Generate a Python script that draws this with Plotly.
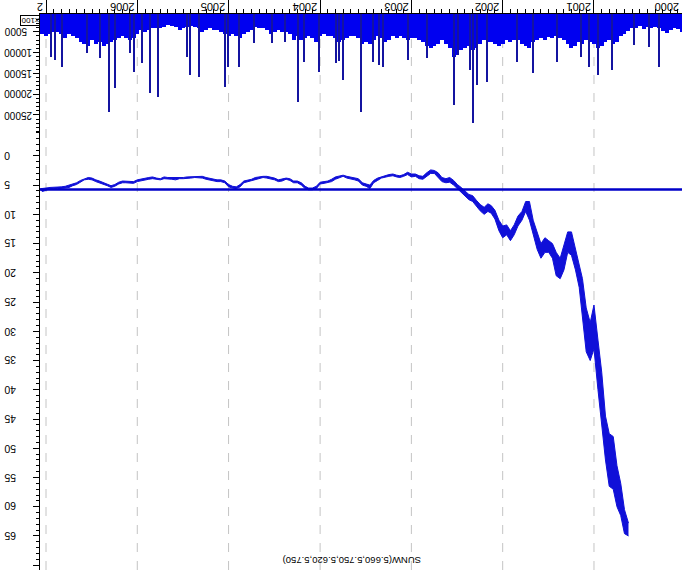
import plotly.graph_objects as go

# ---------------- data ----------------
price_dates = [
    "2000-08-16", "2000-09-01", "2000-09-16", "2000-10-01", "2000-10-16", "2000-11-01", "2000-11-16", "2000-12-01", "2000-12-16",
    "2001-01-01", "2001-01-16", "2001-02-01", "2001-02-16", "2001-03-01", "2001-03-16", "2001-04-01", "2001-04-16",
    "2001-05-01", "2001-05-16", "2001-06-01", "2001-06-16", "2001-07-01", "2001-07-16", "2001-08-01", "2001-08-16",
    "2001-09-01", "2001-09-16", "2001-10-01", "2001-10-16", "2001-11-01", "2001-11-16", "2001-12-01", "2001-12-16",
    "2002-01-01", "2002-01-16", "2002-02-01", "2002-02-16", "2002-03-01", "2002-03-16", "2002-04-01", "2002-04-16",
    "2002-05-01", "2002-05-16", "2002-06-01", "2002-06-16", "2002-07-01", "2002-07-16", "2002-08-01", "2002-08-16",
    "2002-09-01", "2002-09-16", "2002-10-01", "2002-10-16", "2002-11-01", "2002-11-16", "2002-12-01", "2002-12-16",
    "2003-01-01", "2003-01-16", "2003-02-01", "2003-02-16", "2003-03-01", "2003-03-16", "2003-04-01", "2003-04-16",
    "2003-05-01", "2003-05-16", "2003-06-01", "2003-06-16", "2003-07-01", "2003-07-16", "2003-08-01", "2003-08-16",
    "2003-09-01", "2003-09-16", "2003-10-01", "2003-10-16", "2003-11-01", "2003-11-16", "2003-12-01", "2003-12-16",
    "2004-01-01", "2004-01-16", "2004-02-01", "2004-02-16", "2004-03-01", "2004-03-16", "2004-04-01", "2004-04-16",
    "2004-05-01", "2004-05-16", "2004-06-01", "2004-06-16", "2004-07-01", "2004-07-16", "2004-08-01", "2004-08-16",
    "2004-09-01", "2004-09-16", "2004-10-01", "2004-10-16", "2004-11-01", "2004-11-16", "2004-12-01", "2004-12-16",
    "2005-01-01", "2005-01-16", "2005-02-01", "2005-02-16", "2005-03-01", "2005-03-16", "2005-04-01", "2005-04-16",
    "2005-05-01", "2005-05-16", "2005-06-01", "2005-06-16", "2005-07-01", "2005-07-16", "2005-08-01", "2005-08-16",
    "2005-09-01", "2005-09-16", "2005-10-01", "2005-10-16", "2005-11-01", "2005-11-16", "2005-12-01", "2005-12-16",
    "2006-01-01", "2006-01-16", "2006-02-01", "2006-02-16", "2006-03-01", "2006-03-16", "2006-04-01", "2006-04-16",
    "2006-05-01", "2006-05-16", "2006-06-01", "2006-06-16", "2006-07-01", "2006-07-16", "2006-08-01", "2006-08-16",
    "2006-09-01", "2006-09-16", "2006-10-01", "2006-10-16", "2006-11-01", "2006-11-16", "2006-12-01", "2006-12-16",
    "2007-01-01", "2007-01-16", "2007-01-24",
]
price_high = [
    65.0, 64.6, 61.5, 60.0, 57.0, 56.5, 52.0, 46.5, 40.0,
    33.0, 35.0, 33.5, 27.0, 22.5, 19.5, 17.0, 16.5,
    19.5, 21.0, 20.5, 17.5, 16.5, 16.5, 17.5, 16.0,
    13.5, 11.0, 9.5, 11.0, 12.0, 13.5, 14.5, 13.5,
    14.0, 12.8, 10.8, 9.8, 9.5, 10.0, 9.4, 8.6,
    7.8, 7.5, 6.8, 6.3, 5.6, 5.0, 4.5, 4.6,
    4.4, 3.6, 3.0, 3.0, 3.6, 4.0, 3.9, 3.5,
    3.6, 3.2, 3.5, 3.7, 3.6, 3.4, 3.5, 3.7,
    3.8, 4.2, 4.6, 5.6, 5.2, 5.0, 4.3, 4.1,
    4.0, 3.8, 3.5, 3.7, 4.0, 4.4, 4.6, 4.7,
    4.8, 5.6, 5.8, 5.8, 5.6, 5.0, 4.6, 4.6,
    4.2, 4.0, 4.3, 4.4, 4.1, 3.9, 3.8, 3.7,
    3.9, 4.0, 4.3, 4.5, 4.6, 5.3, 5.6, 5.5,
    5.3, 4.6, 4.4, 4.4, 4.3, 4.1, 4.0, 3.8,
    3.7, 3.7, 3.8, 3.9, 3.9, 3.9, 4.1, 4.0,
    3.9, 3.9, 4.1, 4.0, 3.9, 4.0, 4.1, 4.3,
    4.4, 4.7, 4.6, 4.6, 4.6, 4.8, 5.2, 5.4,
    5.1, 4.9, 4.6, 4.4, 4.1, 4.0, 4.1, 4.5,
    4.9, 5.1, 5.4, 5.5, 5.6, 5.6, 5.6, 5.6,
    5.9, 6.1, 5.75,
]
price_low = [
    62.8, 60.5, 56.0, 53.0, 48.0, 47.5, 44.5, 37.0, 31.5,
    25.5, 28.5, 26.0, 21.0, 18.5, 15.5, 13.0, 13.0,
    15.5, 17.5, 16.5, 15.0, 14.5, 14.0, 15.0, 13.0,
    11.0, 7.8, 7.8, 9.5, 10.3, 11.8, 12.8, 11.8,
    12.0, 11.0, 9.3, 8.5, 8.2, 8.8, 8.3, 7.6,
    6.8, 6.6, 5.9, 5.4, 4.9, 4.2, 3.7, 3.9,
    3.7, 2.9, 2.5, 2.4, 2.9, 3.5, 3.4, 3.1,
    3.1, 2.8, 3.2, 3.4, 3.3, 3.1, 3.2, 3.4,
    3.5, 3.8, 4.2, 5.0, 4.8, 4.6, 3.9, 3.8,
    3.7, 3.5, 3.3, 3.4, 3.6, 4.0, 4.3, 4.4,
    4.5, 5.2, 5.5, 5.5, 5.2, 4.6, 4.3, 4.3,
    3.9, 3.8, 4.0, 4.1, 3.8, 3.6, 3.5, 3.5,
    3.6, 3.7, 4.0, 4.2, 4.3, 4.9, 5.3, 5.2,
    4.9, 4.3, 4.1, 4.1, 4.0, 3.9, 3.7, 3.5,
    3.5, 3.5, 3.5, 3.6, 3.7, 3.7, 3.8, 3.7,
    3.7, 3.6, 3.9, 3.8, 3.6, 3.7, 3.8, 4.0,
    4.1, 4.4, 4.4, 4.3, 4.3, 4.5, 4.9, 5.1,
    4.8, 4.6, 4.3, 4.1, 3.8, 3.7, 3.9, 4.2,
    4.6, 4.8, 5.1, 5.2, 5.3, 5.3, 5.3, 5.4,
    5.5, 5.6, 5.62,
]
last_close = 5.75
title_text = "SUNW(5.660,5.750,5.620,5.750)"

vol_dates = [
    "2000-01-01", "2000-01-16", "2000-02-01", "2000-02-16", "2000-03-01", "2000-03-16", "2000-04-01", "2000-04-16",
    "2000-05-01", "2000-05-16", "2000-06-01", "2000-06-16", "2000-07-01", "2000-07-16", "2000-08-01", "2000-08-16",
    "2000-09-01", "2000-09-16", "2000-10-01", "2000-10-16", "2000-11-01", "2000-11-16", "2000-12-01", "2000-12-16",
    "2001-01-01", "2001-01-16", "2001-02-01", "2001-02-16", "2001-03-01", "2001-03-16", "2001-04-01", "2001-04-16",
    "2001-05-01", "2001-05-16", "2001-06-01", "2001-06-16", "2001-07-01", "2001-07-16", "2001-08-01", "2001-08-16",
    "2001-09-01", "2001-09-16", "2001-10-01", "2001-10-16", "2001-11-01", "2001-11-16", "2001-12-01", "2001-12-16",
    "2002-01-01", "2002-01-16", "2002-02-01", "2002-02-16", "2002-03-01", "2002-03-16", "2002-04-01", "2002-04-16",
    "2002-05-01", "2002-05-16", "2002-06-01", "2002-06-16", "2002-07-01", "2002-07-16", "2002-08-01", "2002-08-16",
    "2002-09-01", "2002-09-16", "2002-10-01", "2002-10-16", "2002-11-01", "2002-11-16", "2002-12-01", "2002-12-16",
    "2003-01-01", "2003-01-16", "2003-02-01", "2003-02-16", "2003-03-01", "2003-03-16", "2003-04-01", "2003-04-16",
    "2003-05-01", "2003-05-16", "2003-06-01", "2003-06-16", "2003-07-01", "2003-07-16", "2003-08-01", "2003-08-16",
    "2003-09-01", "2003-09-16", "2003-10-01", "2003-10-16", "2003-11-01", "2003-11-16", "2003-12-01", "2003-12-16",
    "2004-01-01", "2004-01-16", "2004-02-01", "2004-02-16", "2004-03-01", "2004-03-16", "2004-04-01", "2004-04-16",
    "2004-05-01", "2004-05-16", "2004-06-01", "2004-06-16", "2004-07-01", "2004-07-16", "2004-08-01", "2004-08-16",
    "2004-09-01", "2004-09-16", "2004-10-01", "2004-10-16", "2004-11-01", "2004-11-16", "2004-12-01", "2004-12-16",
    "2005-01-01", "2005-01-16", "2005-02-01", "2005-02-16", "2005-03-01", "2005-03-16", "2005-04-01", "2005-04-16",
    "2005-05-01", "2005-05-16", "2005-06-01", "2005-06-16", "2005-07-01", "2005-07-16", "2005-08-01", "2005-08-16",
    "2005-09-01", "2005-09-16", "2005-10-01", "2005-10-16", "2005-11-01", "2005-11-16", "2005-12-01", "2005-12-16",
    "2006-01-01", "2006-01-16", "2006-02-01", "2006-02-16", "2006-03-01", "2006-03-16", "2006-04-01", "2006-04-16",
    "2006-05-01", "2006-05-16", "2006-06-01", "2006-06-16", "2006-07-01", "2006-07-16", "2006-08-01", "2006-08-16",
    "2006-09-01", "2006-09-16", "2006-10-01", "2006-10-16", "2006-11-01", "2006-11-16", "2006-12-01", "2006-12-16",
    "2007-01-01", "2007-01-16",
]
vol_values = [
    4500, 5000, 4300, 4000, 4600, 5200, 4800, 4200,
    3800, 4000, 3900, 4400, 3700, 4100, 4000, 4800,
    5500, 6000, 7500, 8000, 7000, 7500, 8500, 9000,
    8000, 7500, 7000, 8000, 7500, 8500, 9000, 8000,
    7000, 6500, 6000, 6500, 6200, 7000, 6500, 7000,
    7500, 9000, 8500, 8000, 7000, 7000, 7500, 7000,
    8000, 8500, 8000, 7500, 7500, 7000, 8000, 9000,
    9500, 8500, 9000, 9500, 10500, 11000, 9000, 8000,
    7000, 8000, 8500, 9000, 8500, 7500, 7000, 6500,
    6500, 7000, 6500, 6000, 6500, 6000, 7000, 7500,
    6500, 6000, 7000, 8000, 7500, 8000, 6500, 6000,
    6000, 6500, 7000, 7500, 6500, 6000, 6000, 5500,
    6000, 7500, 6500, 6000, 6500, 7000, 6000, 7000,
    5500, 5000, 5000, 4500, 5000, 5500, 4500, 4000,
    4000, 3800, 4500, 5000, 5500, 6500, 6000, 5500,
    6000, 5500, 5000, 4500, 4500, 4200, 4500, 5000,
    4000, 3800, 3600, 3800, 4000, 4500, 3800, 3600,
    3500, 3800, 4000, 4200, 4000, 4500, 5000, 4500,
    5500, 6500, 7000, 6500, 6000, 6500, 7000, 7500,
    8000, 8500, 7500, 8000, 7000, 8500, 8000, 7500,
    6500, 6000, 5500, 6500, 5500, 5000, 5000, 5500,
    6000, 5500,
]

spike_dates = [
    "2000-04-16", "2000-05-26", "2000-07-25", "2000-10-21", "2000-12-16", "2001-01-21", "2001-02-22",
    "2001-05-29", "2001-09-02", "2001-11-05", "2002-03-04", "2002-04-13", "2002-04-29", "2002-05-11",
    "2002-06-28", "2002-07-14", "2002-10-30", "2003-01-14", "2003-04-24", "2003-05-10", "2003-06-03",
    "2003-07-21", "2003-10-01", "2003-10-17", "2003-10-29", "2004-01-05", "2004-03-06", "2004-03-30",
    "2004-05-21", "2004-07-12", "2004-09-22", "2004-11-21", "2005-01-04", "2005-01-16", "2005-04-30",
    "2005-06-05", "2005-06-17", "2005-10-11", "2005-11-12", "2005-12-14", "2006-01-15", "2006-01-31",
    "2006-04-01", "2006-04-25", "2006-05-31", "2006-07-22", "2006-10-30", "2006-11-27", "2006-12-11",
]
spike_values = [
    13500, 8700, 8200, 14200, 15400, 13500, 11000,
    12300, 15000, 12300, 17000, 17800, 26900, 14200,
    10600, 22600, 11300, 11800, 13500, 13000, 12300,
    24300, 16600, 12000, 12500, 14700, 12300, 21900,
    7500, 7700, 7700, 13500, 13500, 18300, 15800,
    15400, 11000, 20600, 19700, 12500, 14700, 10100,
    18500, 24300, 11300, 10100, 13500, 11800, 11000,
]

price_ticks = [0, 5, 10, 15, 20, 25, 30, 35, 40, 45, 50, 55, 60, 65]
vol_ticks = [5000, 10000, 15000, 20000, 25000]
year_ticks = ["2001-01-01", "2002-01-01", "2003-01-01", "2004-01-01", "2005-01-01", "2006-01-01", "2007-01-01"]
year_labels = ["2001", "2002", "2003", "2004", "2005", "2006", "2"]
first_label = "2000"
vol_unit = "x100"

# ---------------- figure ----------------
W, H = 682, 570
ML, MT = 40, 14
PW, PH = W - ML, H - MT
split = 0.788

BLUE = "#0000f0"
DARK = "#1414a0"
LINE = "#1010d8"
FONT = "Liberation Sans"

fig = go.Figure()

fig.add_trace(go.Bar(x=vol_dates, y=vol_values, yaxis="y2", xaxis="x",
                     marker=dict(color=BLUE, line=dict(width=0)),
                     width=16 * 86400000, showlegend=False, hoverinfo="skip"))
fig.add_trace(go.Bar(x=spike_dates, y=spike_values, yaxis="y2", xaxis="x",
                     marker=dict(color=DARK, line=dict(width=0)),
                     width=4.5 * 86400000, showlegend=False, hoverinfo="skip"))

fig.add_trace(go.Scatter(x=price_dates, y=price_high, mode="lines", yaxis="y",
                         line=dict(color=LINE, width=1), showlegend=False, hoverinfo="skip"))
fig.add_trace(go.Scatter(x=price_dates, y=price_low, mode="lines", yaxis="y", fill="tonexty",
                         fillcolor=LINE,
                         line=dict(color=LINE, width=1), showlegend=False, hoverinfo="skip"))

shapes = []
for d in year_ticks:
    shapes.append(dict(type="line", xref="x", yref="paper", x0=d, x1=d, y0=0, y1=1,
                       line=dict(color="#c4c4c4", width=1, dash="dash"), layer="below"))
shapes.append(dict(type="line", xref="paper", yref="y", x0=0, x1=1, y0=last_close, y1=last_close,
                   line=dict(color="#0000c8", width=2.5), layer="above"))

ann = []
for d, t in zip(year_ticks, year_labels):
    ann.append(dict(x=d, xref="x", y=1, yref="paper", yanchor="bottom", xanchor="right",
                    text=t, textangle=180, showarrow=False, yshift=-1, xshift=-1,
                    font=dict(family=FONT, size=11, color="black")))
ann.append(dict(x=(681 - ML) / PW, xref="paper", y=1, yref="paper", yanchor="bottom", xanchor="right",
                text=first_label, textangle=180, showarrow=False, yshift=-1,
                font=dict(family=FONT, size=11, color="black")))
for v in price_ticks:
    ann.append(dict(x=(2 - ML) / PW, xref="paper", y=v, yref="y", xanchor="left", yanchor="middle",
                    text=str(v), textangle=180, showarrow=False,
                    font=dict(family=FONT, size=10.5, color="black")))
for v in vol_ticks:
    ann.append(dict(x=(2 - ML) / PW, xref="paper", y=v, yref="y2", xanchor="left", yanchor="middle",
                    text=str(v), textangle=180, showarrow=False,
                    font=dict(family=FONT, size=10, color="black")))
ann.append(dict(x=(40 - ML) / PW, xref="paper", y=1, yref="paper", xanchor="right", yanchor="top",
                text=vol_unit, textangle=180, showarrow=False, yshift=-1,
                bordercolor="black", borderwidth=1, borderpad=0,
                font=dict(family=FONT, size=8, color="black")))
ann.append(dict(x=(352 - ML) / PW, xref="paper", y=(H - 561) / PH, yref="paper", xanchor="center",
                yanchor="middle", text=title_text, textangle=180, showarrow=False,
                font=dict(family=FONT, size=9.5, color="black")))

fig.update_layout(
    width=W, height=H,
    margin=dict(l=ML, r=0, t=MT, b=0, pad=0),
    paper_bgcolor="white", plot_bgcolor="white",
    barmode="overlay", bargap=0,
    showlegend=False,
    shapes=shapes, annotations=ann,
    xaxis=dict(type="date", range=["2007-01-25", "2000-01-15"], side="top", anchor="y2",
               showgrid=False, zeroline=False, showline=True, linecolor="black", linewidth=1,
               ticks="outside", ticklen=13, tickcolor="black", tickwidth=1,
               tick0="2000-01-01", dtick="M12", showticklabels=False,
               minor=dict(ticks="outside", dtick="M1", ticklen=4, tickcolor="black", tickwidth=1, showgrid=False)),
    yaxis=dict(domain=[0, split], range=[70.82, -4.105], anchor="x",
               showgrid=False, zeroline=False, showline=True, linecolor="black", linewidth=1,
               ticks="outside", ticklen=6, tickcolor="black", tick0=0, dtick=5, showticklabels=False,
               minor=dict(ticks="outside", dtick=1, ticklen=3, tickcolor="black", showgrid=False)),
    yaxis2=dict(domain=[split, 1], range=[29064, 744], anchor="x",
                showgrid=False, zeroline=False, showline=True, linecolor="black", linewidth=1,
                ticks="outside", ticklen=6, tickcolor="black", tick0=0, dtick=5000, showticklabels=False,
                minor=dict(ticks="outside", dtick=1000, ticklen=3, tickcolor="black", showgrid=False)),
)

fig.write_html("out.html", config={"displayModeBar": False},
               post_script="document.body.style.margin='0px';document.body.style.overflow='hidden';")
